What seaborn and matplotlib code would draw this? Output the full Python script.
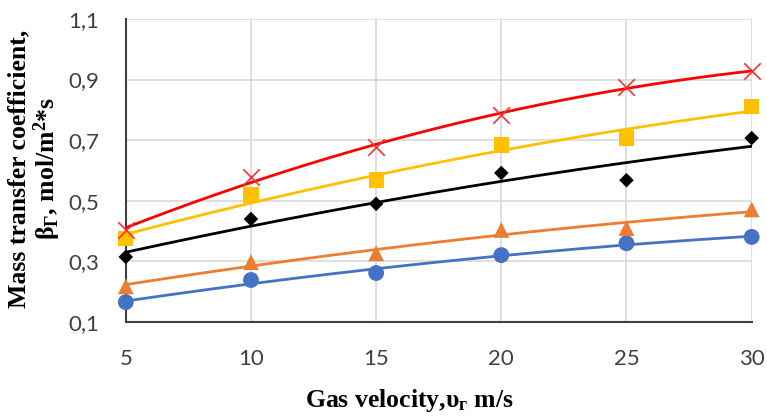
import numpy as np
import pandas as pd
import matplotlib
matplotlib.use("Agg")
import matplotlib.pyplot as plt
import seaborn as sns

velocity = [5, 10, 15, 20, 25, 30]
series_names = ["s1", "s2", "s3", "s4", "s5"]
s1_circle = [0.166, 0.239, 0.262, 0.321, 0.360, 0.381]
s2_triangle = [0.218, 0.298, 0.327, 0.404, 0.410, 0.472]
s3_diamond = [0.315, 0.440, 0.490, 0.592, 0.568, 0.707]
s4_square = [0.377, 0.519, 0.569, 0.684, 0.707, 0.810]
s5_cross = [0.404, 0.578, 0.678, 0.783, 0.876, 0.928]
y_ticks = [0.1, 0.3, 0.5, 0.7, 0.9, 1.1]
y_tick_labels = ["0,1", "0,3", "0,5", "0,7", "0,9", "1,1"]
x_ticks = [5, 10, 15, 20, 25, 30]

colors = {"s1": "#4472C4", "s2": "#ED7D31", "s3": "#000000", "s4": "#FFC000", "s5": "#FF0000"}
marker_colors = {"s1": "#4472C4", "s2": "#ED7D31", "s3": "#000000", "s4": "#FFC000", "s5": "#FF3030"}
markers = {"s1": "o", "s2": "^", "s3": "D", "s4": "s", "s5": "x"}
msizes = {"s1": 130, "s2": 130, "s3": 55, "s4": 120, "s5": 140}

values = [s1_circle, s2_triangle, s3_diamond, s4_square, s5_cross]
df = pd.DataFrame({
    "v": velocity * len(series_names),
    "beta": np.concatenate(values),
    "series": np.repeat(series_names, len(velocity)),
})

# trend lines (2nd order polynomial fit of each series)
xs = np.linspace(5, 30, 200)
trend_rows = []
for name, vals in zip(series_names, values):
    c = np.polyfit(velocity, vals, 2)
    trend_rows.append(pd.DataFrame({"v": xs, "beta": np.polyval(c, xs), "series": name}))
trend = pd.concat(trend_rows, ignore_index=True)

sns.set_theme(style="white")
plt.rcParams["mathtext.fontset"] = "custom"
plt.rcParams["mathtext.rm"] = "Liberation Serif:bold"
plt.rcParams["mathtext.it"] = "Liberation Serif:italic:bold"
plt.rcParams["mathtext.bf"] = "Liberation Serif:bold"

fig = plt.figure(figsize=(7.67, 4.20), dpi=100)
ax = fig.add_axes([0.164, 0.233, 0.816, 0.722])

sns.lineplot(data=trend, x="v", y="beta", hue="series", palette=colors,
             linewidth=2.0, legend=False, ax=ax, zorder=3)
for name in series_names:
    sub = df[df["series"] == name]
    kw = dict(edgecolor="none")
    if markers[name] == "x":
        kw = dict(linewidth=1.2)
    sns.scatterplot(data=sub, x="v", y="beta", color=marker_colors[name],
                    marker=markers[name], s=msizes[name], legend=False,
                    ax=ax, zorder=4, clip_on=False, **kw)

ax.set_xlim(5, 30)
ax.set_ylim(0.1, 1.1)
ax.set_xticks(x_ticks)
ax.set_yticks(y_ticks)
ax.set_yticklabels(y_tick_labels)
ax.tick_params(axis="both", length=0, labelsize=16, colors="#404040")
for lab in ax.get_xticklabels() + ax.get_yticklabels():
    lab.set_fontfamily("Lato")
ax.tick_params(axis="x", pad=19)
ax.tick_params(axis="y", pad=19)

ax.grid(True, color="#D9D9D9", linewidth=1.2)
ax.set_axisbelow(True)
for side in ["top", "right"]:
    ax.spines[side].set_visible(False)
for side in ["left", "bottom"]:
    ax.spines[side].set_color("#404040")
    ax.spines[side].set_linewidth(1.5)

ax.set_xlabel("Gas velocity,$\\mathrm{υ}_{\\mathrm{г}}$ m/s", fontfamily="Liberation Serif",
              fontweight="bold", fontsize=18.5, color="#000000")
ax.xaxis.set_label_coords(0.454, -0.215)
ax.xaxis.label.set_va("top")
ax.set_ylabel("Mass transfer coefficient,\n$\\mathrm{β}_{\\mathrm{Г}}$, mol/m$^{2}$*s",
              fontfamily="Liberation Serif", fontweight="bold", fontsize=18.5,
              color="#000000", linespacing=1.05)
ax.yaxis.set_label_coords(-0.100, 0.505)

fig.savefig("out.png", dpi=100)
